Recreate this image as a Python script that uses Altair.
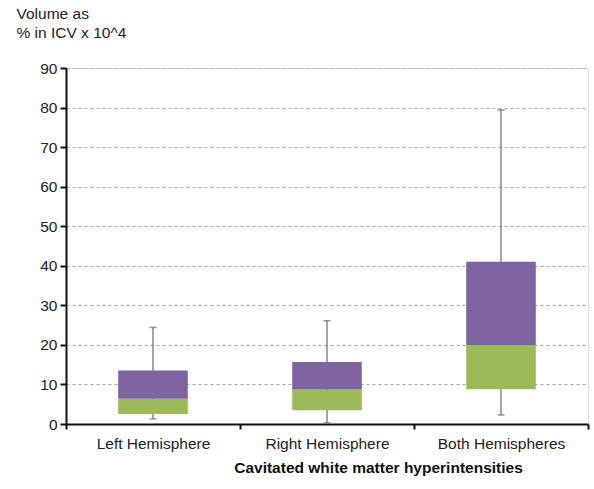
import altair as alt
import pandas as pd

categories = ["Left Hemisphere", "Right Hemisphere", "Both Hemispheres"]
whisker_low = [1.3, 0.3, 2.3]
q1 = [2.5, 3.5, 8.8]
median = [6.4, 8.7, 20.0]
q3 = [13.5, 15.7, 41.0]
whisker_high = [24.4, 26.1, 79.4]
y_ticks = [0, 10, 20, 30, 40, 50, 60, 70, 80, 90]

df = pd.DataFrame({
    "cat": categories,
    "lo": whisker_low,
    "q1": q1,
    "med": median,
    "q3": q3,
    "hi": whisker_high,
})

FONT = "Liberation Sans"

x = alt.X(
    "cat:N",
    sort=categories,
    scale=alt.Scale(paddingInner=0, paddingOuter=0),
    axis=alt.Axis(
        title="Cavitated white matter hyperintensities",
        titleFont=FONT, titleFontSize=15.5, titleFontWeight="bold", titleColor="#111",
        titleX=312, titleY=48, titleAlign="center", titleBaseline="alphabetic",
        labelFont=FONT, labelFontSize=15.5, labelColor="#222", labelAngle=0,
        labelPadding=7, labelBaseline="top",
        tickBand="extent", tickSize=5, tickColor="#111", tickWidth=2,
        domainColor="#111", domainWidth=2,
        grid=False,
    ),
)

y_scale = alt.Scale(domain=[0, 90], nice=False, zero=True)
y_axis = alt.Axis(
    values=y_ticks,
    tickCount=10,
    title=["Volume as", "% in ICV x 10^4"],
    titleFont=FONT, titleFontSize=15.5, titleFontWeight="normal", titleColor="#222",
    titleAngle=0, titleX=-50, titleY=-50, titleAlign="left", titleBaseline="alphabetic",
    titleLineHeight=19,
    labelFont=FONT, labelFontSize=15.5, labelColor="#222", labelPadding=3,
    labelOverlap=False,
    tickSize=6, tickColor="#111", tickWidth=2,
    domainColor="#111", domainWidth=2,
    grid=True, gridColor="#a6a6a6", gridDash=[3, 3], gridWidth=1,
)


def Y(field):
    return alt.Y(field, scale=y_scale, axis=y_axis)


base = alt.Chart(df)

whisker = base.mark_rule(color="#6b6b6b", strokeWidth=1.2).encode(
    x=x, y=Y("lo:Q"), y2="hi:Q"
)
caps_hi = base.mark_tick(color="#6b6b6b", thickness=1.5, size=7).encode(
    x=x, y=Y("hi:Q")
)
caps_lo = base.mark_tick(color="#6b6b6b", thickness=1.5, size=7).encode(
    x=x, y=Y("lo:Q")
)
lower = base.mark_bar(color="#9BBB59", width={"band": 0.4}).encode(
    x=x, y=Y("q1:Q"), y2="med:Q"
)
upper = base.mark_bar(color="#8064A2", width={"band": 0.4}).encode(
    x=x, y=Y("med:Q"), y2="q3:Q"
)

chart = alt.layer(whisker, caps_hi, caps_lo, lower, upper).properties(
    width=522,
    height=356,
    autosize=alt.AutoSizeParams(type="none"),
    padding={"left": 66, "top": 68, "right": 6, "bottom": 65},
).configure_view(stroke=None).configure(background="white")

chart.save("out.html", embed_options={"renderer": "svg", "actions": False})
